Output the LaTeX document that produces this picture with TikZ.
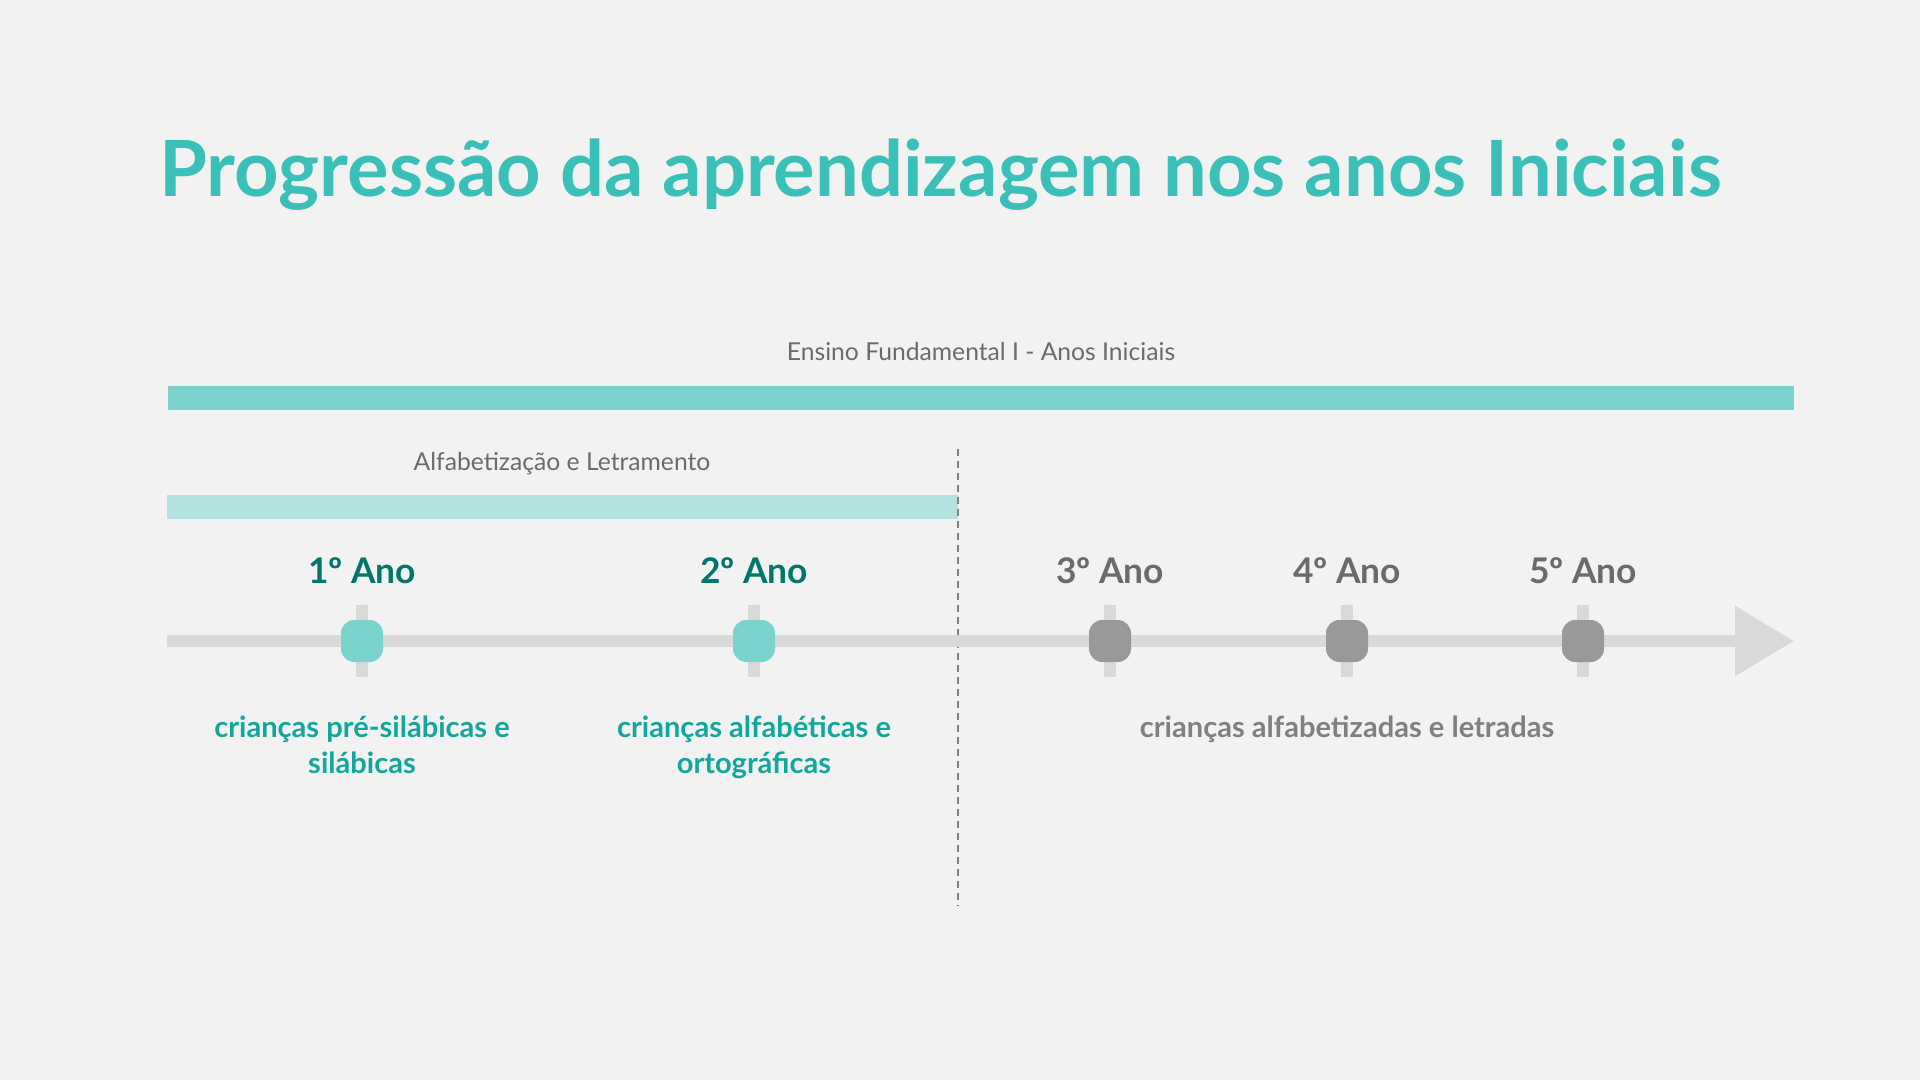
\documentclass[tikz,border=0pt]{standalone}
\usepackage{fontspec}
\setmainfont{Lato}
\usetikzlibrary{arrows.meta}
\definecolor{bgc}{HTML}{F2F2F2}
\definecolor{titlec}{HTML}{3BBFB9}
\definecolor{barA}{HTML}{7BD3CE}
\definecolor{barB}{HTML}{B2E3E1}
\definecolor{linec}{HTML}{D9D9D9}
\definecolor{greyc}{HTML}{6B6B6B}
\definecolor{greyd}{HTML}{808080}
\definecolor{markg}{HTML}{999999}
\definecolor{yeart}{HTML}{00766D}
\definecolor{desct}{HTML}{11A79D}
\tikzset{
  titletext/.style={anchor=base west, inner sep=0, text=titlec, font=\fontsize{58.2pt}{70pt}\selectfont\bfseries},
  smalllabel/.style={anchor=base, inner sep=0, text=greyc, font=\fontsize{18.5pt}{22pt}\selectfont},
  yearlabel/.style={anchor=base, inner sep=0, font=\fontsize{26.5pt}{32pt}\selectfont\bfseries},
  desclabel/.style={anchor=base, inner sep=0, align=center, font=\fontsize{21.8pt}{26.6pt}\selectfont\bfseries},
  marker/.style={rectangle, rounded corners=10pt, minimum width=31.5pt, minimum height=31.5pt, inner sep=0},
  tealmark/.style={marker, fill=barA},
  greymark/.style={marker, fill=markg},
  tickline/.style={draw=linec, line width=9pt},
  timeline/.style={draw=linec, line width=9pt, -{Triangle[length=44.25pt,width=50.25pt]}},
  dashline/.style={draw=greyd, line width=0.9pt, dash pattern=on 5pt off 4pt},
}
\begin{document}
\begin{tikzpicture}[x=0.75pt,y=-0.75pt]
\useasboundingbox[fill=bgc] (0,0) rectangle (1920,1080);
% title
\node[titletext] (title) at (159,197) {Progressão da aprendizagem nos anos Iniciais};
% top band
\node[smalllabel] (ef) at (981,361) {Ensino Fundamental I - Anos Iniciais};
\fill[barA] (168,386) rectangle (1794,410);
\node[smalllabel] (al) at (562,470) {Alfabetização e Letramento};
\fill[barB] (167,495) rectangle (958,519);
% dashed divider
\coordinate (d0) at (958,449);
\coordinate (d1) at (958,906);
\draw[dashline] (d0) -- (d1);
% timeline
\coordinate (t0) at (167,641);
\coordinate (t1) at (1794,641);
\draw[timeline] (t0) -- (t1);
% ticks
\foreach \x in {362,754,1110,1347,1583} {
  \draw[tickline] (\x,605) -- (\x,677);
}
% markers
\node[tealmark] (m1) at (362,641) {};
\node[tealmark] (m2) at (754,641) {};
\node[greymark] (m3) at (1110,641) {};
\node[greymark] (m4) at (1347,641) {};
\node[greymark] (m5) at (1583,641) {};
% year labels
\node[yearlabel, text=yeart] (y1) at (362,583) {1º Ano};
\node[yearlabel, text=yeart] (y2) at (754,583) {2º Ano};
\node[yearlabel, text=greyc] (y3) at (1110,583) {3º Ano};
\node[yearlabel, text=greyc] (y4) at (1347,583) {4º Ano};
\node[yearlabel, text=greyc] (y5) at (1583,583) {5º Ano};
% descriptions (base anchor = last line)
\node[desclabel, text=desct] (c1) at (362,773) {crianças pré-silábicas e\\silábicas};
\node[desclabel, text=desct] (c2) at (754,773) {crianças alfabéticas e\\ortográficas};
\node[desclabel, text=greyd] (c3) at (1347,737) {crianças alfabetizadas e letradas};
\end{tikzpicture}
\end{document}
